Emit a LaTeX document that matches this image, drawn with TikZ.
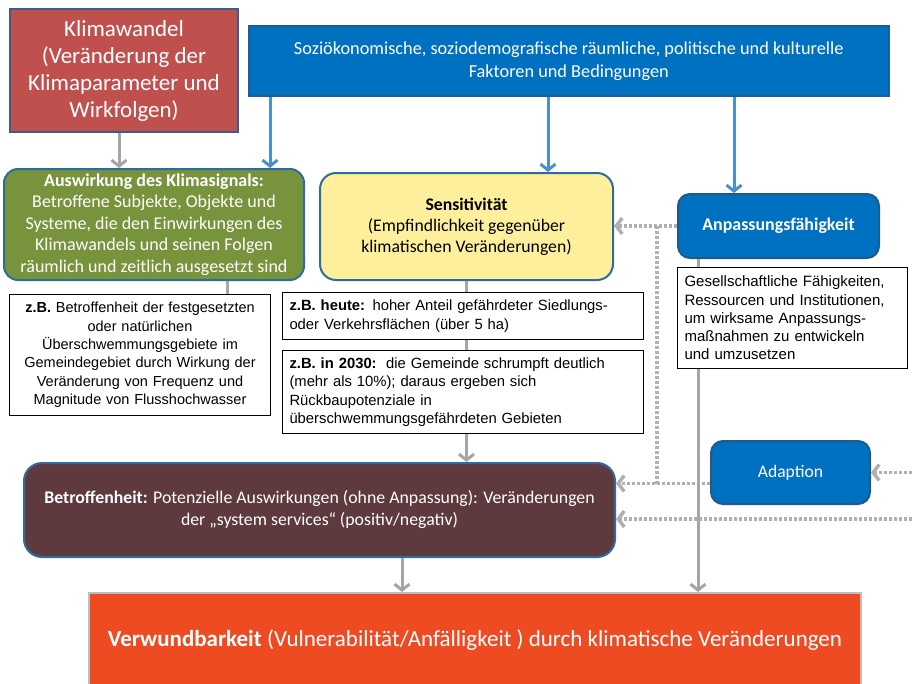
\documentclass[tikz,border=0pt]{standalone}
\usepackage{fontspec}
\setmainfont{Carlito}
\newfontfamily\arialf{Liberation Sans}
\usetikzlibrary{arrows.meta,calc}
\definecolor{kwred}{HTML}{C0504D}
\definecolor{kwborder}{HTML}{3A5F8B}
\definecolor{ablue}{HTML}{0070C0}
\definecolor{sozborder}{HTML}{1F5B95}
\definecolor{agreen}{HTML}{77933C}
\definecolor{bborder}{HTML}{2E6B9E}
\definecolor{ayellow}{HTML}{FEEF9C}
\definecolor{anpborder}{HTML}{1F5A8C}
\definecolor{brownc}{HTML}{5E3A3E}
\definecolor{vorange}{HTML}{EE4B23}
\definecolor{verwborder}{HTML}{BFBFBF}
\definecolor{arrgray}{HTML}{A6A6A6}
\definecolor{arrblue}{HTML}{4A90CF}
\definecolor{dotgray}{HTML}{B0B0B0}
\tikzset{
  cbox/.style={anchor=north west, inner sep=0pt, align=center, line width=2pt},
  wbox/.style={anchor=north west, draw=black, fill=white, line width=1pt, inner xsep=7pt, inner ysep=0pt,
    font=\arialf\fontsize{14.8}{18.4}\selectfont},
  gline/.style={draw=arrgray, line width=3pt},
  garrow/.style={gline, -{Straight Barb[length=6pt,width=15pt]}},
  barrow/.style={draw=arrblue, line width=3pt, -{Straight Barb[length=6pt,width=15pt]}},
  dotline/.style={draw=dotgray, line width=3.5pt, dash pattern=on 3pt off 2pt},
  dotarrow/.style={dotline, -{Straight Barb[length=6pt,width=16pt]}},
}
\begin{document}
\begin{tikzpicture}[x=1pt,y=-1pt]
\useasboundingbox[fill=white] (0,0) rectangle (912,683);
% boxes
\node[cbox, fill=kwred, draw=kwborder, text=white, minimum width=228pt, minimum height=123pt,
  font=\fontsize{23}{27}\selectfont] (kw) at (9,8)
  {Klimawandel\\(Veränderung der\\Klimaparameter und\\Wirkfolgen)};
\node[cbox, fill=ablue, draw=sozborder, line width=1.5pt, text=white, minimum width=640pt, minimum height=70pt,
  font=\fontsize{18.3}{23}\selectfont] (soz) at (248,25)
  {Soziökonomische, soziodemografische räumliche, politische und kulturelle\\Faktoren und Bedingungen};
\node[cbox, fill=agreen, draw=bborder, rounded corners=14pt, text=white, minimum width=300pt, minimum height=111pt,
  font=\fontsize{18}{21.5}\selectfont] (aus) at (3,168)
  {\textbf{Auswirkung des Klimasignals:}\\Betroffene Subjekte, Objekte und\\Systeme, die den Einwirkungen des\\Klimawandels und seinen Folgen\\räumlich und zeitlich ausgesetzt sind};
\node[cbox, fill=ayellow, draw=bborder, rounded corners=16pt, text=black, minimum width=293pt, minimum height=107pt,
  font=\fontsize{17.7}{21}\selectfont] (sens) at (319,172)
  {\textbf{Sensitivität}\\(Empfindlichkeit gegenüber\\klimatischen Veränderungen)};
\node[cbox, fill=ablue, draw=anpborder, rounded corners=12pt, text=white, minimum width=201pt, minimum height=64pt,
  font=\bfseries\fontsize{17.9}{21}\selectfont] (anp) at (677,193)
  {Anpassungsfähigkeit};
\node[wbox, align=left, text width=216pt, minimum height=101pt, font=\arialf\fontsize{15}{18.2}\selectfont] (ges) at (677,267)
  {Gesellschaftliche Fähigkeiten,\\Ressourcen und Institutionen,\\um wirksame Anpassungs-\\maßnahmen zu entwickeln\\und umzusetzen};
\node[wbox, align=center, text width=247pt, minimum height=121pt, font=\arialf\fontsize{14.5}{18.4}\selectfont] (zbl) at (9,294)
  {\textbf{z.B.} Betroffenheit der festgesetzten\\oder natürlichen\\Überschwemmungsgebiete im\\Gemeindegebiet durch Wirkung der\\Veränderung von Frequenz und\\Magnitude von Flusshochwasser};
\node[wbox, align=left, text width=347pt, minimum height=47pt] (heute) at (282,292)
  {\textbf{z.B. heute:} hoher Anteil gefährdeter Siedlungs-\\oder Verkehrsflächen (über 5 ha)};
\node[wbox, align=left, text width=347pt, minimum height=83pt] (zz) at (282,350)
  {\textbf{z.B. in 2030:}\hspace{2pt} die Gemeinde schrumpft deutlich\\(mehr als 10\%); daraus ergeben sich\\Rückbaupotenziale in\\überschwemmungsgefährdeten Gebieten};
\node[cbox, fill=brownc, draw=bborder, rounded corners=18pt, text=white, minimum width=591pt, minimum height=94pt,
  font=\fontsize{17.8}{22}\selectfont] (brown) at (23,462)
  {\textbf{Betroffenheit:} Potenzielle Auswirkungen (ohne Anpassung): Veränderungen\\der „system services“ (positiv/negativ)};
\node[cbox, fill=ablue, draw=anpborder, rounded corners=12pt, text=white, minimum width=159pt, minimum height=63pt,
  font=\fontsize{17.6}{21}\selectfont] (adapt) at (710,440)
  {Adaption};
\node[cbox, fill=vorange, draw=verwborder, text=white, minimum width=772pt, minimum height=95pt,
  font=\fontsize{23}{27}\selectfont] (verw) at (88,592)
  {\textbf{Verwundbarkeit} (Vulnerabilität/Anfälligkeit ) durch klimatische Veränderungen};
% helper coordinates
\coordinate (kwx) at (119,0);
\coordinate (b1) at (270,0);
\coordinate (b2) at (548,0);
\coordinate (b3) at (734,0);
\coordinate (gx) at (227,0);
\coordinate (ax) at (698,0);
\coordinate (bx) at (402,0);
\coordinate (dx) at (657,0);
\coordinate (re) at (912,0);
\coordinate (r2) at (912,519);
\coordinate (aw) at ([yshift=-11pt]adapt.west);
% dotted connectors
\draw[dotarrow] (anp.west) -- (sens.east |- anp.west);
\draw[dotline] (anp.west -| dx) -- (aw -| dx);
\draw[dotarrow] (aw) -- (brown.east |- aw);
\draw[dotarrow] (adapt.east -| re) -- (adapt.east);
\draw[dotarrow] (r2) -- (brown.east |- r2);
% solid connectors
\draw[garrow] (kw.south -| kwx) -- (aus.north -| kwx);
\draw[barrow] (soz.south -| b1) -- (aus.north -| b1);
\draw[barrow] (soz.south -| b2) -- (sens.north -| b2);
\draw[barrow] (soz.south -| b3) -- (anp.north -| b3);
\draw[gline] (aus.south -| gx) -- (zbl.north -| gx);
\draw[gline] (sens.south) -- (heute.north -| sens.south);
\draw[gline] (heute.south -| sens.south) -- (zz.north -| sens.south);
\draw[garrow] (zz.south -| sens.south) -- (brown.north -| sens.south);
\draw[gline] (anp.south -| ax) -- (ges.north -| ax);
\draw[garrow] (ges.south -| ax) -- (verw.north -| ax);
\draw[garrow] (brown.south -| bx) -- (verw.north -| bx);
\end{tikzpicture}
\end{document}
